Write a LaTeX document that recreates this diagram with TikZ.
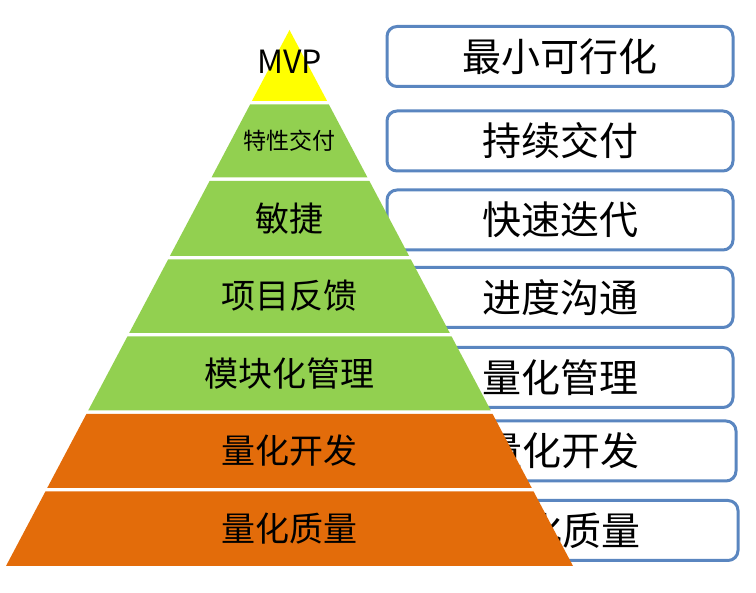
\documentclass[tikz,border=0pt]{standalone}
\usepackage{fontspec}
\newfontfamily\cjk{Noto Sans CJK SC}
\usepackage{tikz}
\definecolor{mvpyellow}{HTML}{FFFF00}
\definecolor{layergreen}{HTML}{92D050}
\definecolor{layerorange}{HTML}{E36C0A}
\definecolor{boxblue}{HTML}{5A86C0}
\tikzset{
  every path/.style={semithick},
  goalbox/.style={draw=boxblue,line width=3pt,rounded corners=10pt,fill=white,
    minimum width=346pt,minimum height=60pt,inner sep=0pt,font=\cjk\fontsize{39}{42}\selectfont},
  layertext/.style={inner sep=0pt,font=\cjk\fontsize{34}{38}\selectfont}
}

\begin{document}
\begin{tikzpicture}[x=1pt,y=-1pt]
    \useasboundingbox (0,0) rectangle (756,593);

    % boxes on the right, behind the pyramid
    \node[goalbox] (mvpbox)   at (560,56.5) {最小可行化};
    \node[goalbox] (featbox)  at (560,141)  {持续交付};
    \node[goalbox] (agilebox) at (560,220)  {快速迭代};
    \node[goalbox] (projbox)  at (560,297.5) {进度沟通};
    \node[goalbox] (modbox)   at (560,377.5) {量化管理};
    \node[goalbox,minimum width=349pt] (devbox)  at (561.5,451) {量化开发};
    \node[goalbox,minimum width=351pt] (qualbox) at (562.5,530.5) {量化质量};

    % the pyramid, one layer at a time
    \fill[mvpyellow] (289.5,30) -- (327.1,101) -- (251.9,101) -- cycle;
    \fill[layergreen] (250.1,104.5) -- (328.9,104.5) -- (367.5,177.5) -- (211.5,177.5) -- cycle;
    \fill[layergreen] (209.6,181) -- (369.4,181) -- (409.1,256) -- (169.9,256) -- cycle;
    \fill[layergreen] (168.1,259.5) -- (410.9,259.5) -- (449.8,333) -- (129.2,333) -- cycle;
    \fill[layergreen] (127.4,336.5) -- (451.6,336.5) -- (490.8,410.5) -- (88.2,410.5) -- cycle;
    \fill[layerorange] (86.4,414) -- (492.6,414) -- (531.8,488) -- (47.2,488) -- cycle;
    \fill[layerorange] (45.4,491.5) -- (533.6,491.5) -- (573,566) -- (6,566) -- cycle;

    \node[layertext,font=\cjk\fontsize{32}{36}\selectfont] (mvp) at (289.5,62) {MVP};
    \node[layertext,font=\cjk\fontsize{23}{26}\selectfont] (feat) at (289.5,141) {特性交付};
    \node[layertext] (agile) at (289.5,218.5) {敏捷};
    \node[layertext] (proj)  at (289.5,296)   {项目反馈};
    \node[layertext] (mod)   at (289.5,373.5) {模块化管理};
    \node[layertext] (dev)   at (289.5,451)   {量化开发};
    \node[layertext] (qual)  at (289.5,529)   {量化质量};
  \end{tikzpicture}
\end{document}
